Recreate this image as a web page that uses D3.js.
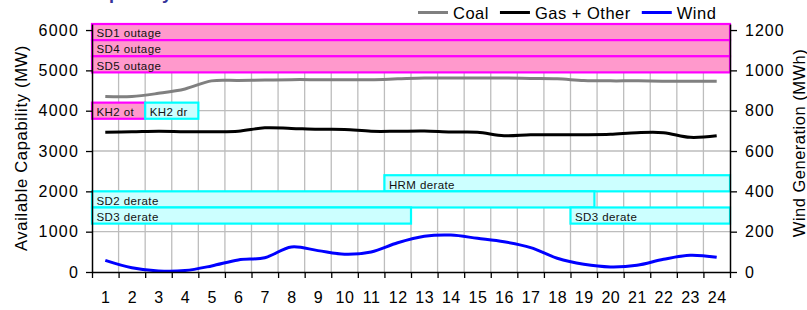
<!DOCTYPE html>
<html><head><meta charset="utf-8">
<script src="https://cdn.jsdelivr.net/npm/d3@7/dist/d3.min.js"></script>
<style>
body{margin:0;background:#fff}
svg{display:block}
text{font-family:"Liberation Sans",Arial,Helvetica,sans-serif}
</style>
</head><body>
<svg id="chart" width="807" height="310"></svg>
<script>
// ---- data ----
const hours = d3.range(1, 25);
const coal = [4350, 4350, 4430, 4540, 4740, 4750, 4760, 4770, 4770, 4770, 4770, 4790,
              4810, 4810, 4810, 4810, 4800, 4790, 4750, 4740, 4740, 4730, 4730, 4730];
const gas  = [3465, 3475, 3490, 3480, 3480, 3490, 3575, 3560, 3540, 3535, 3490, 3490,
              3495, 3470, 3465, 3380, 3405, 3405, 3405, 3415, 3455, 3455, 3340, 3380];
const wind = [58, 21, 5, 7, 30, 60, 71, 124, 106, 88, 99, 145,
              177, 183, 167, 150, 121, 68, 38, 25, 33, 63, 83, 73];
const leftTicks = [0, 1000, 2000, 3000, 4000, 5000, 6000];
const rightTicks = [0, 200, 400, 600, 800, 1000, 1200];
const seriesNames = ["Coal", "Gas + Other", "Wind"];
const seriesColors = ["#808080", "#000000", "#0000ff"];

// outage / derate annotations (hours inclusive, MW band on left axis)
const outageLabels = ["SD1 outage", "SD4 outage", "SD5 outage", "KH2 ot", "KH2 dr",
                      "HRM derate", "SD2 derate", "SD3 derate", "SD3 derate"];
const outageStart  = [1, 1, 1, 1, 3, 12, 1, 1, 19];
const outageEnd    = [24, 24, 24, 2, 4, 24, 18.9, 12, 24];
const outageLow    = [5750, 5350, 4950, 3800, 3800, 2000, 1600, 1200, 1200];
const outageHigh   = [6150, 5750, 5350, 4200, 4200, 2400, 2000, 1600, 1600];
const outageType   = ["outage", "outage", "outage", "outage", "derate",
                      "derate", "derate", "derate", "derate"];

// ---- layout ----
const svg = d3.select("#chart");
const L = 92, R = 730, T = 24, B = 272;
const x = d3.scaleLinear().domain([0.5, 24.5]).range([L, R]);
const yL = d3.scaleLinear().domain([0, 6150]).range([B, T]);
const yR = d3.scaleLinear().domain([0, 1230]).range([B, T]);
const boundaries = d3.range(0.5, 25, 1);

const typeFill = {outage: "#ff99cc", derate: "#ccffff"};
const typeStroke = {outage: "#ff00ff", derate: "#00ffff"};

// title (partly above the visible area, as in the reference)
svg.append("text").attr("x", 86).attr("y", -1)
  .attr("font-size", 18).attr("font-weight", "bold").attr("fill", "#333399")
  .text("Capability");

// grid
const grid = svg.append("g");
grid.selectAll("line.v").data(boundaries.slice(1, -1)).join("line")
  .attr("x1", d => x(d)).attr("x2", d => x(d)).attr("y1", T).attr("y2", B)
  .attr("stroke", "#bdbdbd").attr("stroke-width", 1.3);
grid.selectAll("line.h").data(leftTicks.slice(1)).join("line")
  .attr("x1", L).attr("x2", R).attr("y1", d => yL(d)).attr("y2", d => yL(d))
  .attr("stroke", "#bdbdbd").attr("stroke-width", 1.3);

// annotation bars
const idx = d3.range(outageLabels.length);
const bars = svg.append("g");
bars.selectAll("rect").data(idx).join("rect")
  .attr("x", i => x(outageStart[i] - 0.5))
  .attr("width", i => x(outageEnd[i] + 0.5) - x(outageStart[i] - 0.5))
  .attr("y", i => yL(outageHigh[i]))
  .attr("height", i => yL(outageLow[i]) - yL(outageHigh[i]))
  .attr("fill", i => typeFill[outageType[i]])
  .attr("stroke", i => typeStroke[outageType[i]])
  .attr("stroke-width", 2.2);
bars.selectAll("text").data(idx).join("text")
  .attr("x", i => x(outageStart[i] - 0.5) + 4.5)
  .attr("y", i => yL(outageLow[i]) - 2.8)
  .attr("font-size", 11.5).attr("letter-spacing", 0.4).attr("fill", "#111")
  .text(i => outageLabels[i]);

// lines
const curve = d3.curveCatmullRom.alpha(0.5);
const lineL = d3.line().x((d, i) => x(hours[i])).y(d => yL(d)).curve(curve);
const lineR = d3.line().x((d, i) => x(hours[i])).y(d => yR(d)).curve(curve);
svg.append("path").attr("d", lineL(coal)).attr("fill", "none")
  .attr("stroke", seriesColors[0]).attr("stroke-width", 3);
svg.append("path").attr("d", lineL(gas)).attr("fill", "none")
  .attr("stroke", seriesColors[1]).attr("stroke-width", 3);
svg.append("path").attr("d", lineR(wind)).attr("fill", "none")
  .attr("stroke", seriesColors[2]).attr("stroke-width", 3);

// axes
function styleAxis(g) {
  g.selectAll(".domain").attr("stroke", "#000").attr("stroke-width", 1.5);
  g.selectAll(".tick line").attr("stroke", "#000").attr("stroke-width", 1.3);
  g.selectAll("text").attr("font-size", 16).attr("fill", "#000")
    .attr("font-family", '"Liberation Sans",Arial,sans-serif');
}
const fmt = d3.format("d");
const axL = svg.append("g").attr("transform", `translate(${L},0)`)
  .call(d3.axisLeft(yL).tickValues(leftTicks).tickFormat(fmt).tickSize(6).tickPadding(8).tickSizeOuter(0));
styleAxis(axL);
axL.selectAll("text").attr("letter-spacing", 1.2).attr("dx", "1");
const axR = svg.append("g").attr("transform", `translate(${R},0)`)
  .call(d3.axisRight(yR).tickValues(rightTicks).tickFormat(fmt).tickSize(7).tickPadding(8).tickSizeOuter(0));
styleAxis(axR);
axR.selectAll("text").attr("letter-spacing", 1);
// x axis: labels at hours, ticks at boundaries
const axB = svg.append("g").attr("transform", `translate(0,${B})`)
  .call(d3.axisBottom(x).tickValues(boundaries).tickFormat("").tickSize(6).tickSizeOuter(0));
styleAxis(axB);
const axBL = svg.append("g").attr("transform", `translate(0,${B})`)
  .call(d3.axisBottom(x).tickValues(hours).tickFormat(fmt).tickSize(0).tickPadding(20));
styleAxis(axBL);
axBL.select(".domain").remove();
axBL.selectAll("text").attr("letter-spacing", 0.6);

// axis titles
svg.append("text").attr("transform", `translate(27,148) rotate(-90)`)
  .attr("text-anchor", "middle").attr("font-size", 16.5).attr("letter-spacing", 0.7)
  .text("Available Capability (MW)");
svg.append("text").attr("transform", `translate(805,143) rotate(-90)`)
  .attr("text-anchor", "middle").attr("font-size", 16.5).attr("letter-spacing", 0.5)
  .text("Wind Generation (MWh)");

// legend
const leg = svg.append("g");
let cursor = 418;
seriesNames.forEach((name, i) => {
  leg.append("line").attr("x1", cursor).attr("x2", cursor + 30).attr("y1", 12.5).attr("y2", 12.5)
    .attr("stroke", seriesColors[i]).attr("stroke-width", 3);
  const t = leg.append("text").attr("x", cursor + 35).attr("y", 19)
    .attr("font-size", 16.5).attr("letter-spacing", 0.5).text(name);
  cursor += 35 + t.node().getComputedTextLength() + 11;
});
</script>
</body></html>
